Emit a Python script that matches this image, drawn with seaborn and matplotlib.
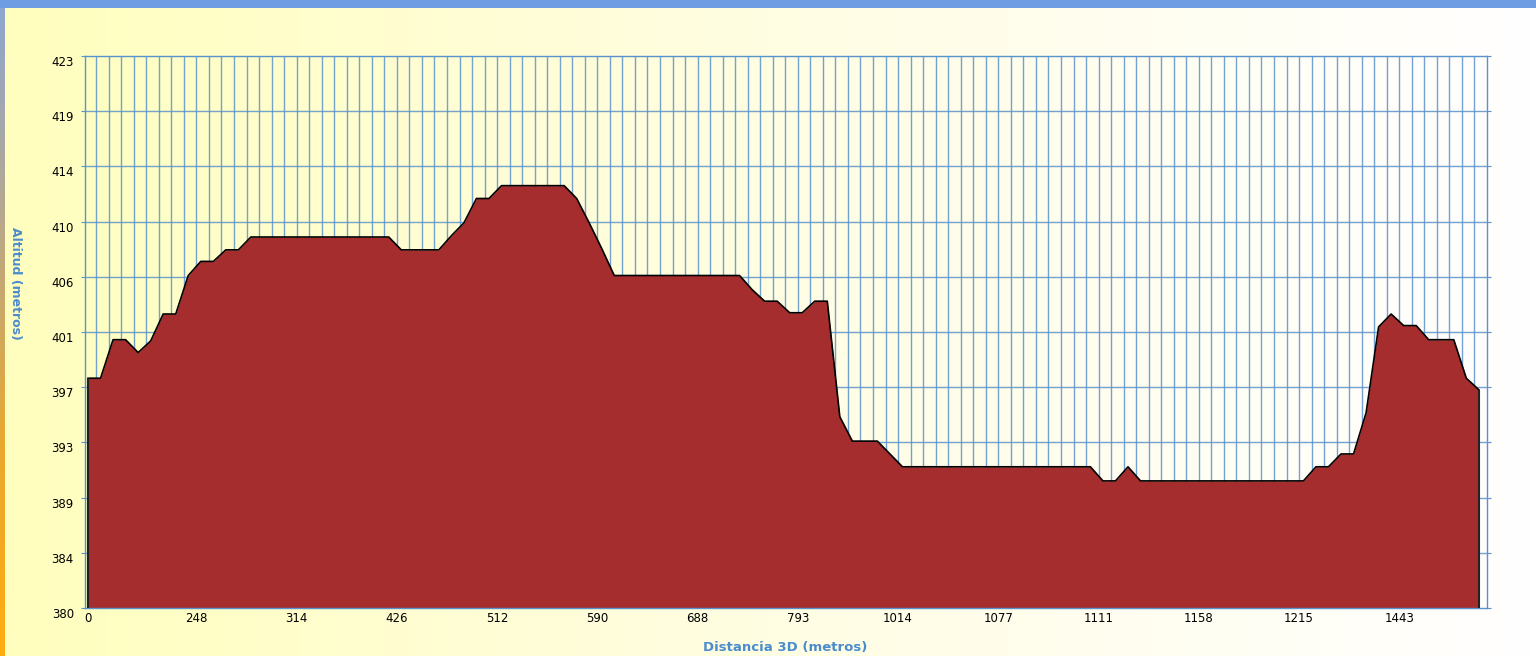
import numpy as np
import pandas as pd
import matplotlib
matplotlib.use("Agg")
import matplotlib.pyplot as plt
import seaborn as sns
from matplotlib.colors import LinearSegmentedColormap

# elevation profile, one value per sample point (metres)
elev = [
    397.9, 397.9, 400.9, 400.9, 399.9, 400.8, 402.9, 402.9, 405.9, 407.0,
    407.0, 407.9, 407.9, 408.9, 408.9, 408.9, 408.9, 408.9, 408.9, 408.9,
    408.9, 408.9, 408.9, 408.9, 408.9, 407.9, 407.9, 407.9, 407.9, 409.0,
    410.0, 411.9, 411.9, 412.9, 412.9, 412.9, 412.9, 412.9, 412.9, 411.9,
    410.0, 408.0, 405.9, 405.9, 405.9, 405.9, 405.9, 405.9, 405.9, 405.9,
    405.9, 405.9, 405.9, 404.8, 403.9, 403.9, 403.0, 403.0, 403.9, 403.9,
    394.9, 393.0, 393.0, 393.0, 392.0, 391.0, 391.0, 391.0, 391.0, 391.0,
    391.0, 391.0, 391.0, 391.0, 391.0, 391.0, 391.0, 391.0, 391.0, 391.0,
    391.0, 389.9, 389.9, 391.0, 389.9, 389.9, 389.9, 389.9, 389.9, 389.9,
    389.9, 389.9, 389.9, 389.9, 389.9, 389.9, 389.9, 389.9, 391.0, 391.0,
    392.0, 392.0, 395.2, 401.9, 402.9, 402.0, 402.0, 400.9, 400.9, 400.9,
    397.9, 397.0,
]
dist_labels = ["0", "248", "314", "426", "512", "590", "688", "793",
               "1014", "1077", "1111", "1158", "1215", "1443"]
alt_ticks = [380.0, 384.3, 388.6, 392.9, 397.2, 401.5, 405.8, 410.1, 414.4, 418.7, 423.0]
alt_labels = ["380", "384", "389", "393", "397", "401", "406", "410", "414", "419", "423"]

df = pd.DataFrame({"punto": np.arange(len(elev)), "altitud": elev})

fill_color = "#a62d2e"
grid_color = "#5a92cb"
label_color = "#4a8ccc"
base = alt_ticks[0]

fig = plt.figure(figsize=(15.36, 6.56), dpi=100)

# background gradient (yellow -> white)
bg = fig.add_axes([0, 0, 1, 1], zorder=-2)
cmap_bg = LinearSegmentedColormap.from_list("bg", ["#ffffbe", "#fffde2", "#ffffff"])
bg.imshow(np.linspace(0, 1, 256)[None, :], aspect="auto", cmap=cmap_bg,
          extent=[0, 1, 0, 1])
bg.set_axis_off()

# left border strip
strip = fig.add_axes([0, 0, 5 / 1536, 1 - 8 / 656], zorder=-1)
cmap_strip = LinearSegmentedColormap.from_list("strip", ["#8ea6d0", "#b9a88a", "#e8a830", "#ffac10"])
strip.imshow(np.linspace(0, 1, 256)[:, None], aspect="auto", cmap=cmap_strip,
             extent=[0, 1, 0, 1])
strip.set_axis_off()

# top blue bar
fig.patches.append(plt.Rectangle((0, 1 - 8 / 656), 1, 8 / 656, transform=fig.transFigure,
                                 facecolor="#6f9de3", edgecolor="none", zorder=5))

ax = fig.add_axes([85 / 1536, 48 / 656, 1402 / 1536, 552 / 656])
ax.set_facecolor("none")

ax.fill_between(df["punto"], base, df["altitud"], color=fill_color, lw=0, zorder=2)
sns.lineplot(data=df, x="punto", y="altitud", ax=ax, color="black", lw=1.2, zorder=3)
ax.vlines([df["punto"].iloc[0], df["punto"].iloc[-1]], base,
          [df["altitud"].iloc[0], df["altitud"].iloc[-1]], color="#222222", lw=1.5, zorder=3)

ax.set_xlim(-0.24, 111.65)
ax.set_ylim(alt_ticks[0], alt_ticks[-1])

# grid
for k in range(111):
    ax.axvline(k + 0.65, color=grid_color, lw=1.0, alpha=0.85, zorder=1)
for t in alt_ticks[1:-1]:
    ax.axhline(t, color=grid_color, lw=1.0, alpha=0.85, zorder=1)

xpos = [0] + [8 * k + 0.65 for k in range(1, len(dist_labels))]
ax.set_xticks(xpos)
ax.set_xticklabels(dist_labels, fontsize=8.5)
ax.set_yticks(alt_ticks)
ax.set_yticklabels(alt_labels, fontsize=8.5)
ax.tick_params(axis="x", length=0, pad=3)
ax.tick_params(axis="y", length=3, color=grid_color, pad=5, right=True)
for lbl in ax.get_yticklabels():
    lbl.set_verticalalignment("top")

for s in ax.spines.values():
    s.set_color(grid_color)
    s.set_linewidth(1.0)

ax.set_xlabel("")
ax.set_ylabel("")
fig.text(785 / 1536, 1 - 647 / 656, "Distancia 3D (metros)", color=label_color,
         fontsize=9.5, fontweight="bold", ha="center", va="center")
fig.text(15 / 1536, 1 - 283 / 656, "Altitud (metros)", color=label_color,
         fontsize=9, fontweight="bold", ha="center", va="center", rotation=270)

fig.savefig("out.png", dpi=100)
